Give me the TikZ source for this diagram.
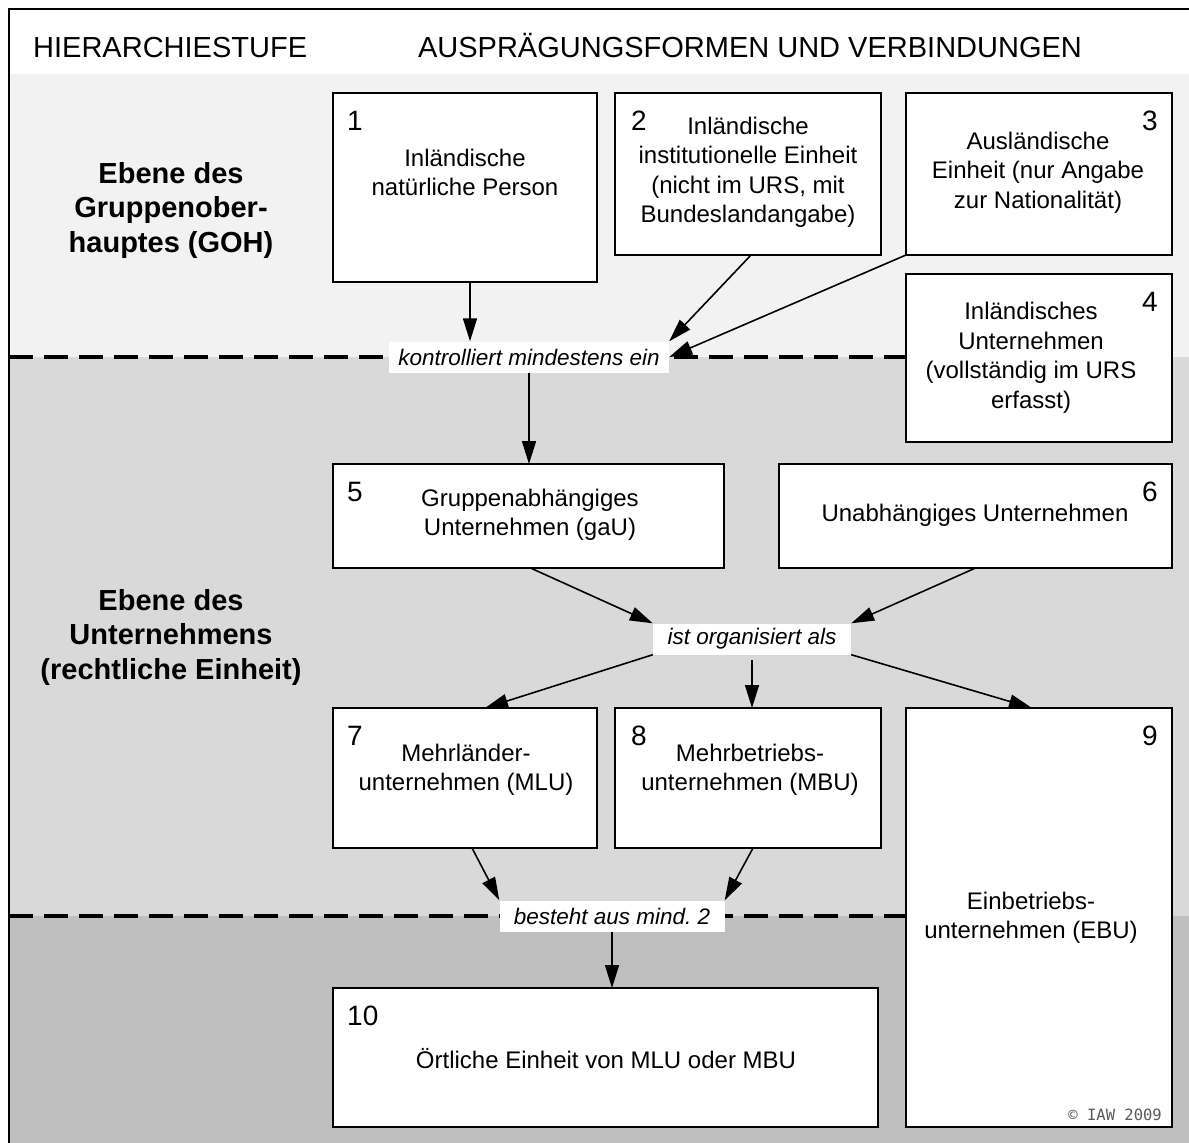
\documentclass[tikz,border=0pt]{standalone}
\usepackage{fontspec}
\setmainfont{Liberation Sans}
\newfontfamily\copyfont{DejaVu Sans Mono}
\usetikzlibrary{arrows.meta}

\definecolor{bandA}{HTML}{F2F2F2}
\definecolor{bandB}{HTML}{D9D9D9}
\definecolor{bandC}{HTML}{BFBFBF}

\tikzset{
  stage/.style={draw=black, line width=2pt, fill=white, anchor=north west,
    inner sep=0pt, outer sep=0pt},
  body/.style={font=\fontsize{24}{29.5}\selectfont, align=center, inner sep=0pt},
  num/.style={font=\fontsize{28}{30}\selectfont, inner sep=0pt},
  rel/.style={fill=white, font=\fontsize{22.5}{26}\selectfont\itshape,
    inner sep=0pt, minimum height=31pt},
  arr/.style={line width=1.6pt, -{Triangle[length=23pt,width=14pt]}},
  level/.style={font=\fontsize{29}{34.5}\selectfont\bfseries, align=center, inner sep=0pt},
  sep/.style={line width=4pt, dash pattern=on 24pt off 11pt},
  head/.style={font=\fontsize{29}{30}\selectfont, inner sep=0pt},
}

\begin{document}
\begin{tikzpicture}[x=1pt,y=-1pt]
\useasboundingbox (0,0) rectangle (1189,1143);

% background bands of the three hierarchy levels
\fill[white] (0,0) rectangle (1189,1143);
\fill[bandA] (9,74) rectangle (1189,357);
\fill[bandB] (9,357) rectangle (1189,916);
\fill[bandC] (9,916) rectangle (1189,1143);
\draw[line width=2pt] (9,1143) -- (9,9) -- (1189,9);

% column headings
\node[head, anchor=base west] (h1) at (33,57) {HIERARCHIESTUFE};
\node[head, anchor=base] (h2) at (750,57) {AUSPRÄGUNGSFORMEN UND VERBINDUNGEN};

% level names
\node[level] (lv1) at (171,210) {Ebene des\\Gruppenober-\\hauptes (GOH)};
\node[level] (lv2) at (171,637) {Ebene des\\Unternehmens\\(rechtliche Einheit)};

% boxes
\node[stage, minimum width=264pt, minimum height=189pt] (b1) at (333,93) {};
\node[stage, minimum width=266pt, minimum height=162pt] (b2) at (615,93) {};
\node[stage, minimum width=266pt, minimum height=162pt] (b3) at (906,93) {};
\node[stage, minimum width=266pt, minimum height=168pt] (b4) at (906,274) {};
\node[stage, minimum width=391pt, minimum height=104pt] (b5) at (333,464) {};
\node[stage, minimum width=393pt, minimum height=104pt] (b6) at (779,464) {};
\node[stage, minimum width=264pt, minimum height=140pt] (b7) at (333,708) {};
\node[stage, minimum width=266pt, minimum height=140pt] (b8) at (615,708) {};
\node[stage, minimum width=266pt, minimum height=419pt] (b9) at (906,708) {};
\node[stage, minimum width=545pt, minimum height=139pt] (b10) at (333,988) {};

% level separators
\draw[sep] (9,357) -- (b4.west |- 0,357);
\draw[sep] (9,916) -- (b9.west |- 0,916);

% box numbers
\node[num, anchor=base west] (n1) at ([shift={(14,37)}]b1.north west) {1};
\node[num, anchor=base west] (n2) at ([shift={(16,37)}]b2.north west) {2};
\node[num, anchor=base east] (n3) at ([shift={(-14,37)}]b3.north east) {3};
\node[num, anchor=base east] (n4) at ([shift={(-14,37)}]b4.north east) {4};
\node[num, anchor=base west] (n5) at ([shift={(14,37)}]b5.north west) {5};
\node[num, anchor=base east] (n6) at ([shift={(-14,37)}]b6.north east) {6};
\node[num, anchor=base west] (n7) at ([shift={(14,37)}]b7.north west) {7};
\node[num, anchor=base west] (n8) at ([shift={(16,37)}]b8.north west) {8};
\node[num, anchor=base east] (n9) at ([shift={(-14,37)}]b9.north east) {9};
\node[num, anchor=base west] (n10) at ([shift={(14,37)}]b10.north west) {10};

% box texts
\node[body] (t1) at (465,172.5) {Inländische\\natürliche Person};
\node[body] (t2) at (748,172.5) {Inländische\\institutionelle Einheit\\(nicht im URS, mit\\Bundeslandangabe)};
\node[body] (t3) at (1038,172.5) {Ausländische\\Einheit (nur Angabe\\zur Nationalität)};
\node[body] (t4) at (1031,358) {Inländisches\\Unternehmen\\(vollständig im URS\\erfasst)};
\node[body] (t5) at (530,515) {Gruppenabhängiges\\Unternehmen (gaU)};
\node[body] (t6) at (975,515) {Unabhängiges Unternehmen};
\node[body] (t7) at (466,770) {Mehrländer-\\unternehmen (MLU)};
\node[body] (t8) at (750,770) {Mehrbetriebs-\\unternehmen (MBU)};
\node[body] (t9) at (1031,918) {Einbetriebs-\\unternehmen (EBU)};
\node[body] (t10) at (606,1059) {Örtliche Einheit von MLU oder MBU};

\node[font=\copyfont\fontsize{15.5}{16}\selectfont, text=black!65, anchor=base east,
  inner sep=0pt] (copy) at (1162,1120) {© IAW 2009};

% relation labels
\node[rel, minimum width=280pt] (l1) at (529,357) {kontrolliert mindestens ein};
\node[rel, minimum width=198pt] (l2) at (752,639) {ist organisiert als};
\node[rel, minimum width=225pt] (l3) at (612,916) {besteht aus mind.\ 2};

% connectors
\draw[arr] ([xshift=5pt]b1.south) -- ([xshift=5pt]b1.south |- l1.north);
\draw[arr] ([xshift=3pt]b2.south) -- (l1.north east);
\draw[arr] (b3.south west) -- (l1.east);
\draw[arr] (l1.south) -- (l1.south |- b5.north);
\draw[arr] ([xshift=2pt]b5.south) -- (l2.north west);
\draw[arr] (b6.south) -- (l2.north east);
\draw[arr] (l2.south west) -- ([xshift=20pt]b7.north);
\draw[arr, shorten <=5pt] (l2.south) -- (l2.south |- b8.north);
\draw[arr] (l2.south east) -- ([xshift=-7pt]b9.north);
\draw[arr] ([xshift=7pt]b7.south) -- (l3.north west);
\draw[arr] ([xshift=5pt]b8.south) -- (l3.north east);
\draw[arr] (l3.south) -- (l3.south |- b10.north);
\end{tikzpicture}
\end{document}
